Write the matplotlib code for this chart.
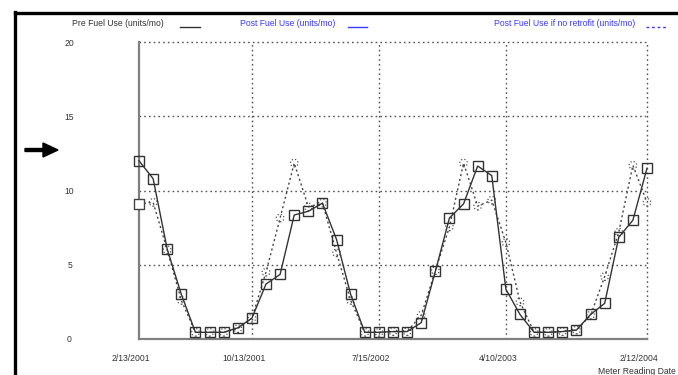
import matplotlib
matplotlib.use("Agg")
import matplotlib.pyplot as plt
from matplotlib.lines import Line2D
from matplotlib.patches import FancyArrow
from matplotlib.transforms import ScaledTranslation

plt.rcParams['font.family'] = ['Liberation Sans', 'DejaVu Sans']

# ---- data ----
months = list(range(37))
pre_fuel = [12.0, 10.8, 6.05, 3.0, 0.45, 0.45, 0.45, 0.75, 1.4, 3.7, 4.35, 8.35, 8.6,
            9.15, 6.7, 3.0, 0.45, 0.45, 0.5, 0.5, 1.1, 4.55, 8.15, 9.1, 11.65, 11.0,
            3.35, 1.65, 0.45, 0.45, 0.5, 0.6, 1.65, 2.4, 6.85, 8.0, 11.5]
no_retrofit = [9.1, 9.2, 6.0, 2.6, 0.45, 0.45, 0.45, 0.7, 1.4, 4.5, 8.15, 11.85, 8.9,
               9.15, 5.8, 2.6, 0.45, 0.45, 0.5, 0.5, 1.6, 4.6, 7.55, 11.85, 8.95, 9.35,
               6.5, 2.5, 0.45, 0.45, 0.5, 0.6, 1.6, 4.2, 7.2, 11.7, 9.2]
tick_months = [0, 8, 17, 26, 36]
tick_labels = ['2/13/2001', '10/13/2001', '7/15/2002', '4/10/2003', '2/12/2004']
y_ticks = [0, 5, 10, 15, 20]
legend_labels = ['Pre Fuel Use (units/mo)', 'Post Fuel Use (units/mo)',
                 'Post Fuel Use if no retrofit (units/mo)']

W, H = 678, 375
fig = plt.figure(figsize=(W / 100, H / 100), dpi=100)
fig.patch.set_facecolor('white')

ax = fig.add_axes([139 / W, 1 - 339 / H, (647 - 139) / W, (339 - 42) / H])
ax.set_xlim(0, 36)
ax.set_ylim(0, 20)

grid_kw = dict(color='#555555', linestyle=(0, (1.2, 2.2)), linewidth=1.0, clip_on=False)
for yv in y_ticks[1:]:
    ax.axhline(yv, **grid_kw, zorder=1)
for xv in tick_months[1:]:
    ax.axvline(xv, **grid_kw, zorder=1)

for s in ['top', 'right']:
    ax.spines[s].set_visible(False)
for s in ['left', 'bottom']:
    ax.spines[s].set_color('#808080')
    ax.spines[s].set_linewidth(1.6)

# no-retrofit dotted series
ax.plot(months, no_retrofit, color='#444444', linestyle=(0, (1.5, 2)), linewidth=1.0,
        zorder=2, clip_on=False)
ax.scatter(months, no_retrofit, marker='o', s=30, facecolors='none', edgecolors='#555555',
           linewidths=0.9, linestyles=':', zorder=3, clip_on=False)
ax.scatter(months[:1], no_retrofit[:1], marker='s', s=50, facecolors='white',
           edgecolors='#444444', linewidths=1.0, zorder=3, clip_on=False)

# pre fuel solid series
ax.plot(months, pre_fuel, color='#333333', linewidth=1.0, marker='s', markersize=6.5,
        markerfacecolor='none', markeredgecolor='#333333', markeredgewidth=1.0, zorder=4,
        clip_on=False)

ax.set_xticks(tick_months)
ax.set_xticklabels(tick_labels)
ax.set_yticks(y_ticks)
ax.tick_params(axis='both', length=0, labelsize=6.2, colors='#333333')
ax.tick_params(axis='y', pad=50)
ax.tick_params(axis='x', pad=11)
for lab in ax.get_xticklabels():
    lab.set_transform(lab.get_transform() + ScaledTranslation(-8 / 100, 0, fig.dpi_scale_trans))
for lab in ax.get_yticklabels():
    lab.set_horizontalalignment('center')

fig.text(676 / W, 1 - 371 / H, 'Meter Reading Date', ha='right', va='center',
         fontsize=6.2, color='#333333')

# legend (top)
ly = 1 - 24 / H
fig.text(72 / W, ly, legend_labels[0], ha='left', va='center', fontsize=6.2, color='#333333')
fig.add_artist(Line2D([180 / W, 200 / W], [1 - 26.5 / H] * 2, color='#333333', linewidth=1.0))
fig.text(240 / W, ly, legend_labels[1], ha='left', va='center', fontsize=6.2, color='#3a3aff')
fig.add_artist(Line2D([348 / W, 367 / W], [1 - 26.5 / H] * 2, color='#3a3aff', linewidth=1.0))
fig.text(494 / W, ly, legend_labels[2], ha='left', va='center', fontsize=6.2, color='#3a3aff')
fig.add_artist(Line2D([646 / W, 668 / W], [1 - 26.5 / H] * 2, color='#3a3aff', linewidth=1.0,
                      linestyle=(0, (2, 2))))

# black frame
fig.add_artist(Line2D([14.5 / W, 1.0], [1 - 12.5 / H] * 2, color='black', linewidth=2.4))
fig.add_artist(Line2D([14.5 / W, 14.5 / W], [1 - 11.5 / H, 0], color='black', linewidth=2.4))

# arrow
fig.add_artist(FancyArrow(25 / W, 1 - 150 / H, 33 / W, 0, width=3 / H, head_width=14 / H,
                          head_length=15 / W, length_includes_head=True, color='black',
                          transform=fig.transFigure))

fig.savefig('out.png', dpi=100)
